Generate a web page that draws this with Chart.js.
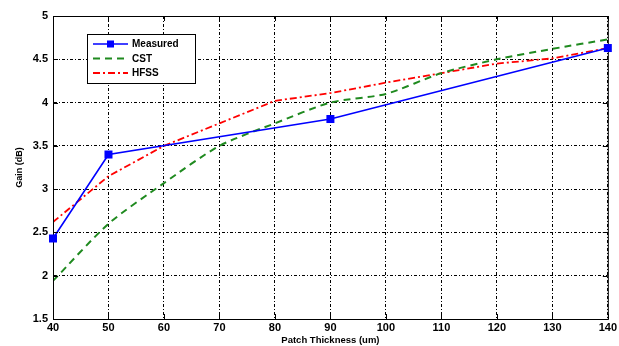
<!DOCTYPE html>
<html>
<head>
<meta charset="utf-8">
<script src="https://cdn.jsdelivr.net/npm/chart.js@4.4.1/dist/chart.umd.min.js"></script>
<style>
  html, body { margin: 0; padding: 0; background: #fff; }
  #wrap { width: 619px; height: 346px; position: relative; }
</style>
</head>
<body>
<div id="wrap"><canvas id="chart"></canvas></div>
<script>
// datos
const thickness = [40, 50, 60, 70, 80, 90, 100, 110, 120, 130, 140];
const measuredX = [40, 50, 90, 140];
const measuredGain = [2.43, 3.40, 3.81, 4.63];
const cstGain = [1.94, 2.60, 3.07, 3.50, 3.76, 4.00, 4.10, 4.34, 4.50, 4.62, 4.73];
const hfssGain = [2.62, 3.15, 3.50, 3.76, 4.02, 4.11, 4.23, 4.34, 4.45, 4.51, 4.63];
const xTicks = [40, 50, 60, 70, 80, 90, 100, 110, 120, 130, 140];
const yTicks = [1.5, 2, 2.5, 3, 3.5, 4, 4.5, 5];

const toPoints = (xs, ys) => xs.map((x, i) => ({ x: x, y: ys[i] }));

const FONT = 'Liberation Sans, Arial, sans-serif';

// marco negro + leyenda dentro del área del gráfico
const frameAndLegend = {
    id: 'frameAndLegend',
    afterDatasetsDraw(chart) {
        const { ctx, chartArea: a, scales } = chart;
        ctx.save();
        ctx.strokeStyle = '#000';
        ctx.lineWidth = 1;
        ctx.setLineDash([]);
        ctx.strokeRect(a.left + 0.5, a.top + 0.5, a.right - a.left, a.bottom - a.top);
        // marcas interiores
        ctx.beginPath();
        for (const v of yTicks) {
            const y = Math.round(scales.y.getPixelForValue(v)) + 0.5;
            ctx.moveTo(a.left, y); ctx.lineTo(a.left + 5, y);
            ctx.moveTo(a.right, y); ctx.lineTo(a.right - 5, y);
        }
        for (const v of xTicks) {
            const x = Math.round(scales.x.getPixelForValue(v)) + 0.5;
            ctx.moveTo(x, a.bottom); ctx.lineTo(x, a.bottom - 5);
            ctx.moveTo(x, a.top); ctx.lineTo(x, a.top + 5);
        }
        ctx.stroke();

        // marcadores de Measured por encima del marco
        const meta = chart.getDatasetMeta(0);
        ctx.fillStyle = '#0000ff';
        for (const p of meta.data) {
            ctx.fillRect(p.x - 4, p.y - 4, 8, 8);
        }

        // leyenda
        const bx = 87, by = 34, bw = 108, bh = 49;
        ctx.fillStyle = '#fff';
        ctx.fillRect(bx, by, bw, bh);
        ctx.strokeRect(bx + 0.5, by + 0.5, bw, bh);
        const rows = chart.data.datasets;
        ctx.font = 'bold 10px ' + FONT;
        ctx.textBaseline = 'middle';
        rows.forEach((ds, i) => {
            const y = by + 10 + i * 14.5;
            ctx.strokeStyle = ds.borderColor;
            ctx.lineWidth = ds.borderWidth;
            ctx.setLineDash(ds.borderDash || []);
            ctx.beginPath();
            ctx.moveTo(bx + 6, y); ctx.lineTo(bx + 41, y);
            ctx.stroke();
            ctx.setLineDash([]);
            if (ds.pointRadius > 0) {
                ctx.fillStyle = ds.borderColor;
                ctx.fillRect(bx + 23.5 - 3.5, y - 3.5, 7, 7);
            }
            ctx.fillStyle = '#000';
            ctx.fillText(ds.label, bx + 45, y + 0.5);
        });
        ctx.restore();
    }
};

const gridDash = [3, 2, 1, 2];

new Chart(document.getElementById('chart'), {
    type: 'line',
    data: {
        datasets: [
            {
                label: 'Measured',
                data: toPoints(measuredX, measuredGain),
                borderColor: '#0000ff',
                backgroundColor: '#0000ff',
                borderWidth: 1.6,
                pointStyle: 'rect',
                pointRadius: 4,
                pointBorderWidth: 0,
                clip: false,
                tension: 0
            },
            {
                label: 'CST',
                data: toPoints(thickness, cstGain),
                borderColor: '#1f8a1f',
                borderWidth: 2,
                borderDash: [7, 5],
                pointRadius: 0,
                tension: 0.25
            },
            {
                label: 'HFSS',
                data: toPoints(thickness, hfssGain),
                borderColor: '#ff0000',
                borderWidth: 1.8,
                borderDash: [7, 3, 2, 3],
                pointRadius: 0,
                tension: 0
            }
        ]
    },
    options: {
        responsive: true,
        maintainAspectRatio: false,
        animation: false,
        layout: { padding: { left: 0, top: 16, right: 7, bottom: 0 } },
        plugins: { legend: { display: false }, tooltip: { enabled: false } },
        scales: {
            x: {
                type: 'linear',
                min: 40,
                max: 140,
                afterBuildTicks: (s) => { s.ticks = xTicks.map(v => ({ value: v })); },
                afterFit: (s) => { s.height = 27; },
                grid: {
                    color: '#000',
                    lineWidth: 1,
                    drawTicks: false
                },
                border: { display: true, color: 'rgba(0,0,0,0)', dash: gridDash },
                ticks: {
                    color: '#000',
                    padding: 2,
                    callback: (v) => String(v),
                    font: { family: FONT, size: 11, weight: 'bold' }
                },
                title: {
                    display: true,
                    text: 'Patch Thickness (um)',
                    color: '#000',
                    padding: { top: -2, bottom: 0 },
                    font: { family: FONT, size: 9.5, weight: 'bold' }
                }
            },
            y: {
                min: 1.5,
                max: 5,
                afterBuildTicks: (s) => { s.ticks = yTicks.map(v => ({ value: v })); },
                afterFit: (s) => { s.width = 53; },
                grid: {
                    color: '#000',
                    lineWidth: 1,
                    drawTicks: false
                },
                border: { display: true, color: 'rgba(0,0,0,0)', dash: gridDash },
                ticks: {
                    color: '#000',
                    padding: 5,
                    callback: (v) => String(v),
                    font: { family: FONT, size: 11, weight: 'bold' }
                },
                title: {
                    display: true,
                    text: 'Gain (dB)',
                    color: '#000',
                    padding: { top: 14, bottom: 0 },
                    font: { family: FONT, size: 9, weight: 'bold' }
                }
            }
        }
    },
    plugins: [frameAndLegend]
});
</script>
</body>
</html>
